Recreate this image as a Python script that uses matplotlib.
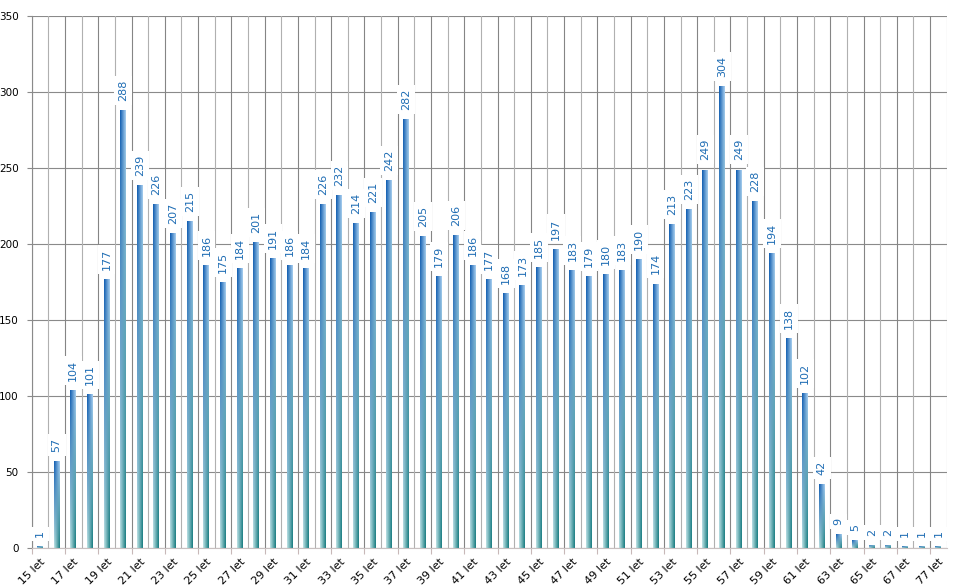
import numpy as np
import matplotlib
matplotlib.use("Agg")
import matplotlib.pyplot as plt
from matplotlib.colors import to_rgb

# age groups and counts
ages = [15, 16, 17, 18, 19, 20, 21, 22, 23, 24, 25, 26, 27, 28, 29, 30,
        31, 32, 33, 34, 35, 36, 37, 38, 39, 40, 41, 42, 43, 44, 45, 46,
        47, 48, 49, 50, 51, 52, 53, 54, 55, 56, 57, 58, 59, 60, 61, 62,
        63, 64, 65, 66, 67, 68, 77]
counts = [1, 57, 104, 101, 177, 288, 239, 226, 207, 215, 186, 175, 184, 201, 191, 186,
          184, 226, 232, 214, 221, 242, 282, 205, 179, 206, 186, 177, 168, 173, 185, 197,
          183, 179, 180, 183, 190, 174, 213, 223, 249, 304, 249, 228, 194, 138, 102, 42,
          9, 5, 2, 2, 1, 1, 1]
labels = ["%d let" % a for a in ages]
y_ticks = [0, 50, 100, 150, 200, 250, 300, 350]

plt.rcParams['font.family'] = ['DejaVu Sans']

fig = plt.figure(figsize=(9.58, 5.88), dpi=100)
ax = fig.add_axes([0.0331, 0.068, 0.9551, 0.9048])

n = len(counts)
x = np.arange(n)
bar_w = 0.36

# bar gradient: blue at the top, teal at the bottom
tl, tr = np.array(to_rgb('#0f5cb0')), np.array(to_rgb('#a9cff0'))
bl, br = np.array(to_rgb('#bfe3e5')), np.array(to_rgb('#187c80'))
t = np.linspace(0, 1, 64)[:, None, None]
s = np.linspace(0, 1, 16)[None, :, None]
grad = (1 - t) * ((1 - s) * tl + s * tr) + t * ((1 - s) * bl + s * br)

bars = ax.bar(x, counts, width=bar_w, color='none', edgecolor='none', zorder=2)
for b, v in zip(bars, counts):
    x0 = b.get_x()
    im = ax.imshow(grad, extent=[x0, x0 + bar_w, 0, v], aspect='auto',
                   interpolation='bilinear', zorder=2)
    im.set_clip_path(b)

# value labels
for xi, v in zip(x, counts):
    ax.annotate(str(v), (xi, v), xytext=(0, 6.5), textcoords='offset points',
                rotation=90, ha='center', va='bottom', fontsize=8, color='#1f6db4',
                bbox=dict(boxstyle='square,pad=0.35', fc='white', ec='none'),
                zorder=4)

# grid
for yv in y_ticks:
    ax.axhline(yv, color='#8a8a8a', lw=0.8, zorder=0)
for k in range(n + 1):
    ax.axvline(k - 0.5, color='#858585' if k % 2 == 0 else '#b0b0b0', lw=0.8, zorder=0)

ax.set_xlim(-0.5, n - 0.5)
ax.set_ylim(0, 350)
ax.set_yticks(y_ticks)
ax.tick_params(axis='y', labelsize=7.5, length=3.5, width=0.8, color='#8a8a8a', pad=6)

ax.set_xticks(x[::2])
ax.set_xticklabels(labels[::2], rotation=45, ha='right', rotation_mode='anchor', fontsize=8)
ax.tick_params(axis='x', which='major', length=0, pad=6)
ax.set_xticks(np.arange(-0.5, n, 2), minor=True)
ax.tick_params(axis='x', which='minor', length=4, width=0.8, color='#c8b8b8')

for sp in ['top', 'right']:
    ax.spines[sp].set_visible(False)
ax.spines['left'].set_color('#8a8a8a')
ax.spines['left'].set_linewidth(0.8)
ax.spines['bottom'].set_color('#c8c0c0')
ax.spines['bottom'].set_linewidth(0.8)

fig.savefig('out.png', dpi=100)
